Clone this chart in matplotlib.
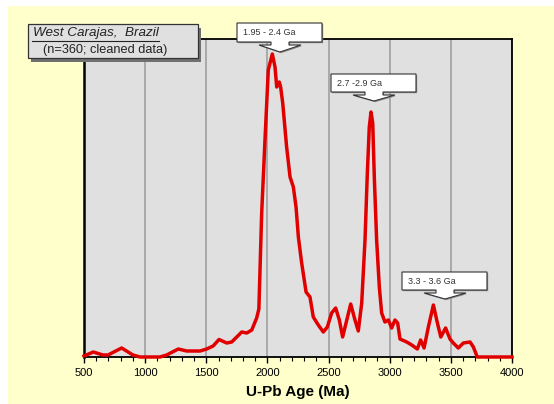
import matplotlib.pyplot as plt
import matplotlib.patches as mpatches
import numpy as np

plt.rcParams['font.family'] = ['Liberation Sans', 'DejaVu Sans']

# age (Ma) vs relative probability
ages = [500, 576, 655, 696, 808, 900, 958, 1121, 1176, 1271, 1340, 1449, 1503,
        1556, 1604, 1667, 1708, 1749, 1790, 1831, 1872, 1912, 1930, 1953, 1980,
        2007, 2040, 2062, 2076, 2097, 2108, 2125, 2157, 2185, 2212, 2234, 2253,
        2280, 2316, 2348, 2375, 2416, 2457, 2490, 2525, 2558, 2588, 2615, 2643,
        2681, 2716, 2743, 2771, 2798, 2817, 2833, 2847, 2861, 2874, 2893, 2915,
        2934, 2961, 2989, 3016, 3043, 3065, 3084, 3139, 3180, 3226, 3253, 3281,
        3316, 3357, 3390, 3418, 3457, 3493, 3520, 3561, 3602, 3657, 3684, 3716,
        4000]
prob = [1, 5, 2, 2, 9, 2, 0, 0, 2, 8, 6, 6, 8,
        11, 17.5, 14, 15, 20, 25, 24, 27, 39, 48, 144, 217,
        287, 303, 290, 270, 275, 270, 254, 210, 180, 170, 150, 120,
        94, 65, 60, 40, 32, 25, 30, 44, 49, 37, 20, 34,
        53, 37, 26, 54, 117, 184, 230, 245, 234, 180, 117, 70,
        44, 35, 37, 29, 37, 34, 18, 15, 12, 8, 17, 9,
        30, 52, 34, 20, 29, 18, 14, 9, 14, 15, 10, 0,
        0]

callouts = ['1.95 - 2.4 Ga', '2.7 -2.9 Ga', '3.3 - 3.6 Ga']

W, H = 554, 404
fig = plt.figure(figsize=(W / 100, H / 100), dpi=100, facecolor='white')

# yellow backdrop
fig.patches.append(mpatches.Rectangle((8 / W, 0), 1 - 8 / W, 1 - 6 / H,
                                      transform=fig.transFigure, facecolor='#FFFFCC',
                                      edgecolor='none', zorder=-5))

ax = fig.add_axes([84 / W, 1 - 357 / H, (512 - 84) / W, (357 - 39) / H])
ax.set_facecolor('#E0E0E0')
ax.plot(ages, prob, color='#E00000', lw=2.5, clip_on=False, zorder=5,
        solid_joinstyle='round')

ax.set_xlim(500, 4000)
ax.set_ylim(0, 318)
ax.set_xticks(np.arange(500, 4001, 500))
ax.set_xticks(np.arange(500, 4001, 100), minor=True)
ax.set_yticks([])
ax.grid(axis='x', color='#A0A0A0', lw=1.2)
ax.set_axisbelow(True)
ax.tick_params(axis='x', which='major', direction='out', length=4, width=1,
               labelsize=8, pad=4)
ax.tick_params(axis='x', which='minor', direction='out', length=3, width=0.8)
for s in ax.spines.values():
    s.set_color('black')
    s.set_linewidth(1.3)
ax.spines['left'].set_linewidth(1.8)
ax.set_xlabel('U-Pb Age (Ma)', fontsize=11, fontweight='bold', labelpad=5)


def px(x, y):
    return (x / W, 1 - y / H)


def callout(text, x0, x1, y0, y1, tip_x, tip_y):
    # box with a down-pointing arrow, in pixel coordinates
    cx = tip_x
    head_half = 21
    shaft_half = 9
    head_y = y1 + 3
    pts = [(x0, y0), (x1, y0), (x1, y1), (cx + shaft_half, y1),
           (cx + shaft_half, head_y), (cx + head_half, head_y), (cx, tip_y),
           (cx - head_half, head_y), (cx - shaft_half, head_y),
           (cx - shaft_half, y1), (x0, y1)]
    shadow = [(x + 1.2, y + 1.2) for x, y in pts]
    fig.patches.append(mpatches.Polygon([px(*p) for p in shadow], closed=True,
                                        transform=fig.transFigure, facecolor='#909090',
                                        edgecolor='none', zorder=6))
    fig.patches.append(mpatches.Polygon([px(*p) for p in pts], closed=True,
                                        transform=fig.transFigure, facecolor='white',
                                        edgecolor='#333333', lw=0.8, zorder=7))
    fig.text((x0 + 6) / W, 1 - (y0 + y1) / 2 / H, text, fontsize=6.5,
             color='#333333', va='center', ha='left', zorder=8)


callout(callouts[0], 237, 322, 23, 42, 280, 52)
callout(callouts[1], 331, 416, 74, 92, 374, 101)
callout(callouts[2], 402, 487, 272, 290, 445, 299)

# title box
fig.patches.append(mpatches.Rectangle(px(31, 62), 170 / W, 34 / H,
                                      transform=fig.transFigure, facecolor='#707070',
                                      edgecolor='none', zorder=6))
fig.patches.append(mpatches.Rectangle(px(28, 58), 170 / W, 34 / H,
                                      transform=fig.transFigure, facecolor='#E0E0E0',
                                      edgecolor='#333333', lw=0.9, zorder=7))
fig.text(33 / W, 1 - 33 / H, 'West Carajas,  Brazil', fontsize=9.7, style='italic',
         color='#222222', va='center', ha='left', zorder=8)
fig.lines.append(plt.Line2D([32 / W, 159 / W], [1 - 41 / H, 1 - 41 / H],
                            transform=fig.transFigure, color='#222222', lw=0.8,
                            zorder=8))
fig.text(43 / W, 1 - 50 / H, '(n=360; cleaned data)', fontsize=9.2,
         color='#222222', va='center', ha='left', zorder=8)

fig.savefig('out.png', dpi=100, facecolor=fig.get_facecolor())
